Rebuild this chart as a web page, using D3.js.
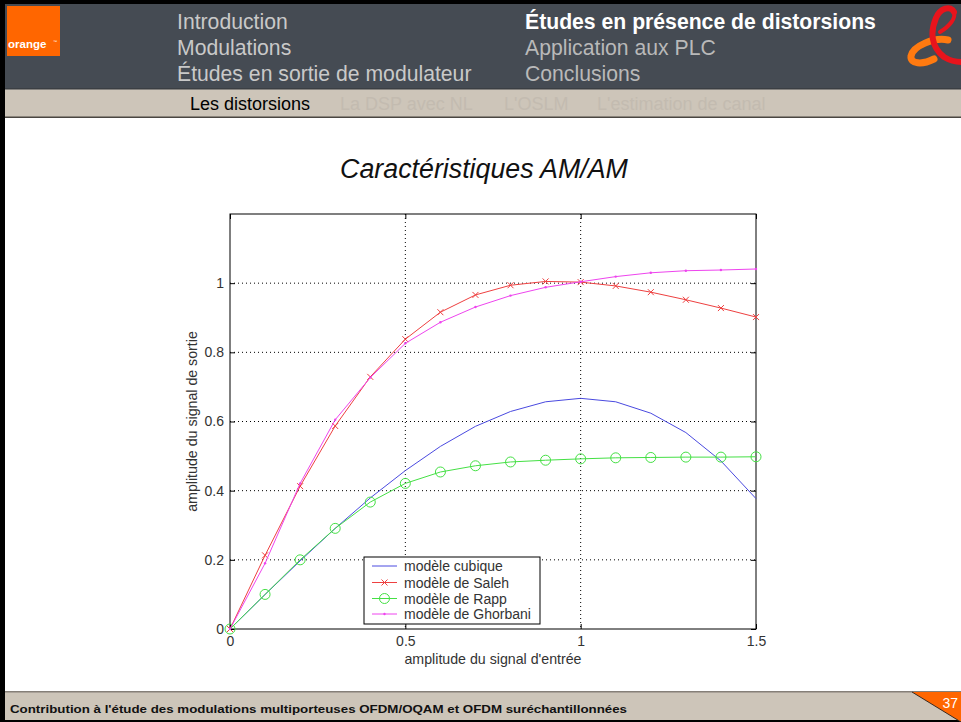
<!DOCTYPE html>
<html><head><meta charset="utf-8">
<script src="https://cdn.jsdelivr.net/npm/d3@7"></script>
<style>
html,body{margin:0;padding:0;background:#fff;}
svg{display:block;font-family:"Liberation Sans",Arial,sans-serif;}
</style></head><body>
<svg id="c" width="961" height="722"></svg>
<script>
// ---- data ----
const xValues = [0,0.1,0.2,0.3,0.4,0.5,0.6,0.7,0.8,0.9,1.0,1.1,1.2,1.3,1.4,1.5];
const cubique = [0,0.0997,0.197,0.291,0.379,0.458,0.528,0.586,0.629,0.657,0.667,0.657,0.624,0.568,0.486,0.377];
const saleh   = [0,0.213,0.413,0.587,0.729,0.838,0.916,0.966,0.994,1.005,1.003,0.992,0.974,0.952,0.928,0.902];
const rapp    = [0,0.100,0.200,0.291,0.367,0.421,0.454,0.472,0.483,0.488,0.492,0.495,0.496,0.497,0.497,0.498];
const ghorbani= [0,0.190,0.421,0.605,0.727,0.826,0.887,0.931,0.964,0.988,1.004,1.019,1.030,1.036,1.038,1.041];
const xTicks = [0,0.5,1,1.5];
const yTicks = [0,0.2,0.4,0.6,0.8,1];
const xTickLabels = ["0","0.5","1","1.5"];
const yTickLabels = ["0","0.2","0.4","0.6","0.8","1"];
const seriesNames = ["modèle cubique","modèle de Saleh","modèle de Rapp","modèle de Ghorbani"];
const navLeft = ["Introduction","Modulations","Études en sortie de modulateur"];
const navRight = ["Études en présence de distorsions","Application aux PLC","Conclusions"];
const subNav = ["Les distorsions","La DSP avec NL","L'OSLM","L'estimation de canal"];

const svg = d3.select("#c");

// ---- slide frame ----
svg.append("rect").attr("x",0).attr("y",0).attr("width",961).attr("height",722).attr("fill","#fff");
// header
svg.append("rect").attr("x",0).attr("y",0).attr("width",961).attr("height",89).attr("fill","#454b53");
svg.append("rect").attr("x",0).attr("y",0).attr("width",961).attr("height",4).attr("fill","#000");
// orange logo
svg.append("rect").attr("x",7).attr("y",6).attr("width",53).attr("height",50).attr("fill","#ff6600");
svg.append("text").attr("x",8).attr("y",48).attr("font-size",11.5).attr("font-weight","bold").attr("fill","#fff").text("orange");
svg.append("text").attr("x",53).attr("y",43).attr("font-size",4).attr("fill","#fff").text("™");
// nav texts
const navY = [29,55,81];
navLeft.forEach((t,i)=>{
  svg.append("text").attr("x",177).attr("y",navY[i]).attr("font-size",21.2).attr("fill","#c9c9c9").text(t);
});
navRight.forEach((t,i)=>{
  svg.append("text").attr("x",525).attr("y",navY[i]).attr("font-size",21.2)
    .attr("font-weight", i===0?"bold":"normal")
    .attr("fill", i===0?"#ffffff":"#b9b9b9").text(t);
});
// ampersand logo
const amp = svg.append("g").attr("fill","none").attr("stroke-linecap","round");
amp.append("path").attr("d","M948,40 C934,37 913,46 911,56 C910,64 922,65 934,59")
  .attr("stroke","#ff7a10").attr("stroke-width",7);
amp.append("path").attr("d","M954,12 C951,5 940,8 936,18 C930,32 931,47 944,57 C949,60 955,62 961,62")
  .attr("stroke","#e8141c").attr("stroke-width",6);
amp.append("path").attr("d","M954,12 C956,18 950,26 940,32")
  .attr("stroke","#e8141c").attr("stroke-width",4);
// sub nav bar
svg.append("rect").attr("x",0).attr("y",88).attr("width",961).attr("height",30).attr("fill","#cdc5b9");
svg.append("rect").attr("x",0).attr("y",88).attr("width",961).attr("height",1.5).attr("fill","#3b3f44");
svg.append("rect").attr("x",0).attr("y",116.5).attr("width",961).attr("height",1.5).attr("fill","#4a4641");
const subX = [190,340,504,597];
subNav.forEach((t,i)=>{
  svg.append("text").attr("x",subX[i]).attr("y",110).attr("font-size",18)
    .attr("fill", i===0?"#000":"#c3bbb0").text(t);
});
// footer
svg.append("rect").attr("x",0).attr("y",691).attr("width",961).attr("height",31).attr("fill","#cdc5b9");
svg.append("rect").attr("x",0).attr("y",691).attr("width",961).attr("height",1.5).attr("fill","#857f78");
svg.append("rect").attr("x",0).attr("y",720).attr("width",961).attr("height",2).attr("fill","#000");
svg.append("path").attr("d","M912,692 L961,692 L961,722 Z").attr("fill","#ff6600");
svg.append("path").attr("d","M912,692 L961,722").attr("stroke","#3a2a20").attr("stroke-width",1);
svg.append("text").attr("x",958).attr("y",708).attr("text-anchor","end").attr("font-size",14).attr("fill","#fff").text("37");
svg.append("text").attr("x",10).attr("y",713).attr("font-size",11.5).attr("font-weight","bold")
  .attr("fill","#111").attr("textLength",617).attr("lengthAdjust","spacingAndGlyphs")
  .text("Contribution à l'étude des modulations multiporteuses OFDM/OQAM et OFDM suréchantillonnées");
// left black border
svg.append("rect").attr("x",0).attr("y",0).attr("width",5).attr("height",722).attr("fill","#000");

// ---- title ----
svg.append("text").attr("x",484).attr("y",178).attr("text-anchor","middle").attr("font-size",26.8)
  .attr("font-style","italic").attr("fill","#111").text("Caractéristiques AM/AM");

// ---- plot ----
const L=230, R=756, T=214, B=629;
const x = d3.scaleLinear().domain([0,1.5]).range([L,R]);
const y = d3.scaleLinear().domain([0,1.2]).range([B,T]);
const g = svg.append("g");
g.append("rect").attr("x",L).attr("y",T).attr("width",R-L).attr("height",B-T).attr("fill","#fff");
// grid
g.selectAll(".gx").data(xTicks.filter(v=>v>0&&v<1.5)).enter().append("line")
  .attr("x1",d=>x(d)).attr("x2",d=>x(d)).attr("y1",T).attr("y2",B)
  .attr("stroke","#000").attr("stroke-width",1).attr("stroke-dasharray","1,3");
g.selectAll(".gy").data(yTicks.filter(v=>v>0)).enter().append("line")
  .attr("y1",d=>y(d)).attr("y2",d=>y(d)).attr("x1",L).attr("x2",R)
  .attr("stroke","#000").attr("stroke-width",1).attr("stroke-dasharray","1,3");
// axes
const fmtX = d=>xTickLabels[xTicks.indexOf(d)];
const fmtY = d=>yTickLabels[yTicks.indexOf(d)];
const axB = g.append("g").attr("transform",`translate(0,${B})`)
  .call(d3.axisBottom(x).tickValues(xTicks).tickSizeInner(-5).tickSizeOuter(0).tickPadding(7).tickFormat(fmtX));
const axT = g.append("g").attr("transform",`translate(0,${T})`)
  .call(d3.axisTop(x).tickValues(xTicks).tickSizeInner(-5).tickSizeOuter(0).tickFormat(""));
const axL = g.append("g").attr("transform",`translate(${L},0)`)
  .call(d3.axisLeft(y).tickValues(yTicks).tickSizeInner(-5).tickSizeOuter(0).tickPadding(6).tickFormat(fmtY));
const axR = g.append("g").attr("transform",`translate(${R},0)`)
  .call(d3.axisRight(y).tickValues(yTicks).tickSizeInner(-5).tickSizeOuter(0).tickFormat(""));
[axB,axT,axL,axR].forEach(a=>{
  a.select(".domain").remove();
  a.selectAll("line").attr("stroke","#000");
  a.selectAll("text").attr("font-size",14).attr("fill","#333").attr("font-family","Liberation Sans, Arial, sans-serif");
});
g.append("rect").attr("x",L).attr("y",T).attr("width",R-L).attr("height",B-T)
  .attr("fill","none").attr("stroke","#000").attr("stroke-width",1);
// axis labels
g.append("text").attr("x",(L+R)/2).attr("y",664).attr("text-anchor","middle").attr("font-size",14.2)
  .attr("fill","#333").text("amplitude du signal d'entrée");
g.append("text").attr("transform",`translate(197,${(T+B)/2}) rotate(-90)`).attr("text-anchor","middle")
  .attr("font-size",14.2).attr("fill","#333").text("amplitude du signal de sortie");

// series
const colors = ["#4a4ae0","#ee4040","#44e044","#ee44ee"];
const data = [cubique,saleh,rapp,ghorbani];
const line = d3.line().x((d,i)=>x(xValues[i])).y(d=>y(d));
const sg = g.append("g");
function marker(sel, k, cx, cy){
  if(k===1){
    const s=3;
    sel.append("path").attr("d",`M${cx-s},${cy-s}L${cx+s},${cy+s}M${cx-s},${cy+s}L${cx+s},${cy-s}`)
      .attr("stroke",colors[k]).attr("stroke-width",1).attr("fill","none");
  } else if(k===2){
    sel.append("circle").attr("cx",cx).attr("cy",cy).attr("r",5).attr("fill","none")
      .attr("stroke",colors[k]).attr("stroke-width",1);
  } else if(k===3){
    sel.append("circle").attr("cx",cx).attr("cy",cy).attr("r",1.2).attr("fill",colors[k]);
  }
}
data.forEach((arr,k)=>{
  sg.append("path").datum(arr).attr("d",line).attr("fill","none").attr("stroke",colors[k]).attr("stroke-width",1);
  arr.forEach((v,i)=>marker(sg,k,x(xValues[i]),y(v)));
});

// legend
const lg = g.append("g");
lg.append("rect").attr("x",364).attr("y",557).attr("width",176).attr("height",67)
  .attr("fill","#fff").attr("stroke","#000").attr("stroke-width",1);
const legY=[566,582.5,598.5,614];
seriesNames.forEach((n,k)=>{
  lg.append("line").attr("x1",372).attr("x2",397).attr("y1",legY[k]).attr("y2",legY[k])
    .attr("stroke",colors[k]).attr("stroke-width",1);
  marker(lg,k,384.5,legY[k]);
  lg.append("text").attr("x",404).attr("y",legY[k]+5).attr("font-size",14).attr("fill","#333").text(n);
});
</script>
</body></html>
